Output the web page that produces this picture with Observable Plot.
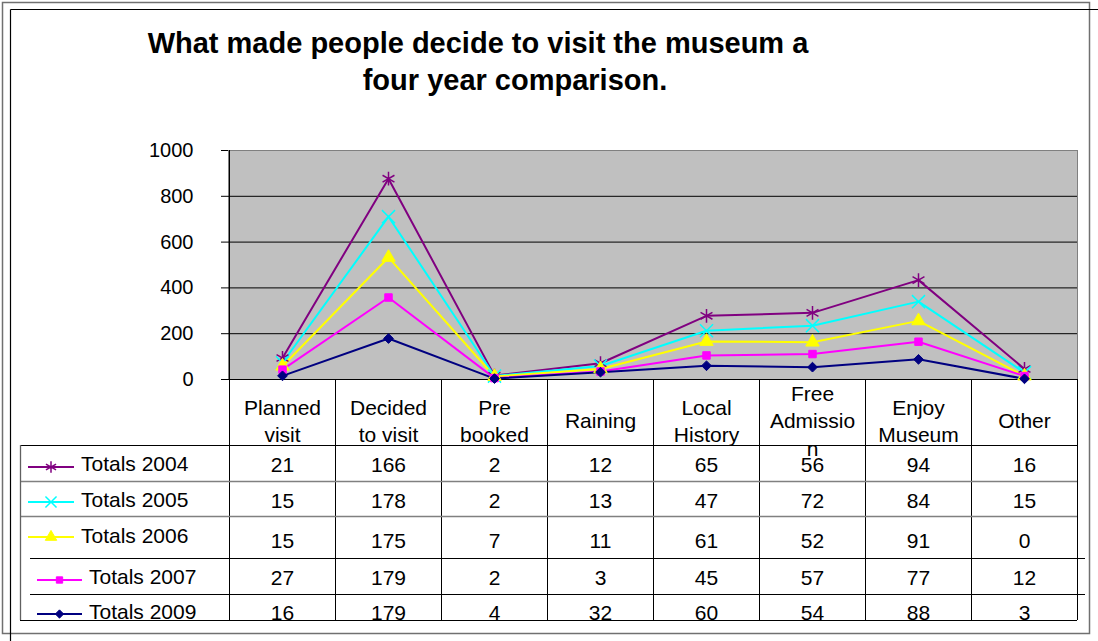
<!DOCTYPE html>
<html><head><meta charset="utf-8">
<script src="https://cdn.jsdelivr.net/npm/d3@7"></script>
<script src="https://cdn.jsdelivr.net/npm/@observablehq/plot@0.6"></script>
<style>body{margin:0;background:#fff;} svg{display:block}</style>
</head><body><div id="chart"></div>
<script>
// ---- data ----
const categories = ["Planned visit", "Decided to visit", "Pre booked", "Raining", "Local History", "Free Admission", "Enjoy Museum", "Other"];
const headerLabels = ["Planned\nvisit", "Decided\nto visit", "Pre\nbooked", "Raining", "Local\nHistory", "Free\nAdmissio\nn", "Enjoy\nMuseum", "Other"];
const seriesNames = ["Totals 2004", "Totals 2005", "Totals 2006", "Totals 2007", "Totals 2009"];
const totals2004 = [21, 166, 2, 12, 65, 56, 94, 16];
const totals2005 = [15, 178, 2, 13, 47, 72, 84, 15];
const totals2006 = [15, 175, 7, 11, 61, 52, 91, 0];
const totals2007 = [27, 179, 2, 3, 45, 57, 77, 12];
const totals2009 = [16, 179, 4, 32, 60, 54, 88, 3];
const seriesValues = [totals2004, totals2005, totals2006, totals2007, totals2009];
const seriesColors = ["#800080", "#00FFFF", "#FFFF00", "#FF00FF", "#000080"];
const seriesSymbols = ["asterisk", "times", "triangle", "square", "diamond2"];
const stackOrder = ["Totals 2009", "Totals 2007", "Totals 2006", "Totals 2005", "Totals 2004"];
const yTicks = [0, 200, 400, 600, 800, 1000];
const titleLines = ["What made people decide to visit the museum a", "four year comparison."];

const data = seriesNames.flatMap((s, i) => seriesValues[i].map((v, j) => ({series: s, category: categories[j], value: v})));

// ---- layout ----
const W = 1098, H = 641;
const font = "'Liberation Sans', Arial, Helvetica, sans-serif";
const mTop = 150, mBottom = 262, mLeft = 228, mRight = 21;
const plotBottom = H - mBottom;
const markerR = [6.5, 6, 5, 4.2, 4.4];
const markerSW = [1.5, 1.5, 1, 1, 1];
const rowBaselines = [471, 507, 547, 584, 619];
const legendBaselines = [471, 507, 543, 584, 619];
const keyY = [467, 502, 537, 580, 614];
const keyX = [[28, 74, 81], [28, 74, 81], [28, 74, 81], [37, 82, 89], [37, 82, 89]];
const rowLines = [[445, 20, 1077, "#000"], [481, 20, 1077, "#808080"], [516, 20, 1077, "#808080"], [558, 30, 1085, "#000"], [594, 30, 1085, "#000"], [620, 20, 1077, "#000"]];

const stackOpts = {x: "category", y: "value", z: "series", order: stackOrder};

const plot = Plot.plot({
  width: W, height: H,
  marginTop: mTop, marginBottom: mBottom, marginLeft: mLeft, marginRight: mRight,
  style: {fontFamily: font, fontSize: "21px", background: "white", color: "#000", overflow: "visible"},
  x: {type: "band", domain: categories, padding: 0, axis: null},
  y: {domain: [0, 1000], axis: null},
  color: {domain: seriesNames, range: seriesColors},
  symbol: {domain: seriesNames, range: seriesSymbols},
  marks: [
    Plot.frame({fill: "#C0C0C0", stroke: "#808080"}),
    Plot.ruleY([200, 400, 600, 800], {stroke: "#000", strokeWidth: 1}),
    Plot.ruleY([0], {stroke: "#000", strokeWidth: 1.2}),
    Plot.axisY(yTicks, {tickSize: 7, tickPadding: 28, fontSize: 20, label: null, tickFormat: d => String(d)}),
    Plot.lineY(data, Plot.stackY2({...stackOpts, stroke: "series", strokeWidth: 2})),
    ...seriesNames.map((s, i) => Plot.dot(data, Plot.filter(d => d.series === s,
      Plot.stackY2({...stackOpts, symbol: "series", fill: seriesColors[i], stroke: seriesColors[i], r: markerR[i], strokeWidth: markerSW[i]})))),
    Plot.text(categories, {x: d => d, text: (d, i) => headerLabels[i], frameAnchor: "bottom", dy: 40, lineAnchor: "middle", lineHeight: 1.3, fontSize: 21, fill: "#000"}),
    ...seriesNames.map((s, i) => Plot.text(seriesValues[i], {
      x: (d, j) => categories[j], text: d => String(d),
      frameAnchor: "bottom", lineAnchor: "bottom", dy: rowBaselines[i] - plotBottom, fontSize: 21, fill: "#000"
    }))
  ]
});

document.getElementById("chart").appendChild(plot);

// ---- decorations: table grid, legend keys, title, frames ----
const svg = d3.select(plot);
const xs = plot.scale("x");
const bw = xs.bandwidth;
const bounds = categories.map(c => xs.apply(c)).concat([xs.apply(categories[categories.length - 1]) + bw]);
const g = svg.append("g").attr("text-anchor", "start");
const ln = (x1, y1, x2, y2, stroke, w = 1) => g.append("line").attr("x1", x1).attr("y1", y1).attr("x2", x2).attr("y2", y2).attr("stroke", stroke).attr("stroke-width", w);

// y axis line continuing into table
ln(Math.round(bounds[0]) + 0.5, mTop, Math.round(bounds[0]) + 0.5, 620, "#000");
// column lines in table
bounds.slice(1).forEach(b => ln(Math.round(b) + 0.5, plotBottom, Math.round(b) + 0.5, 620, "#000"));
// row lines
rowLines.forEach(([y, x1, x2, c]) => ln(x1, y + 0.5, x2, y + 0.5, c, c === "#000" ? 1 : 1.6));
// left legend border
ln(20.5, 445, 20.5, 620, "#606060", 1.3);

// legend keys
const symMap = {asterisk: d3.symbolAsterisk, times: d3.symbolTimes, triangle: d3.symbolTriangle, square: d3.symbolSquare, diamond2: d3.symbolDiamond2};
seriesNames.forEach((s, i) => {
  const [x1, x2, tx] = keyX[i];
  ln(x1, keyY[i], x2, keyY[i], seriesColors[i], 2);
  const cx = (x1 + x2) / 2;
  const r = markerR[i] * 0.85;
  g.append("path").attr("d", d3.symbol(symMap[seriesSymbols[i]], Math.PI * r * r)())
    .attr("transform", `translate(${cx},${keyY[i]})`)
    .attr("fill", seriesColors[i]).attr("stroke", seriesColors[i]).attr("stroke-width", markerSW[i]);
  g.append("text").attr("x", tx).attr("y", legendBaselines[i]).attr("text-anchor", "start")
    .attr("font-size", 21).attr("font-family", font).attr("fill", "#000").text(s);
});

// title
const titleX = [478, 515], titleY = [53, 90];
titleLines.forEach((t, i) => g.append("text").attr("x", titleX[i]).attr("y", titleY[i]).attr("text-anchor", "middle")
  .attr("font-size", 29).attr("font-weight", "bold").attr("font-family", font).attr("fill", "#000").text(t));

// outer frames
g.append("rect").attr("x", 2.5).attr("y", 2.5).attr("width", 1087).attr("height", 631).attr("fill", "none").attr("stroke", "#707070").attr("stroke-width", 1.5);
ln(10.5, 9.5, W, 9.5, "#000", 1.2);
ln(10.5, 9.5, 10.5, H, "#000", 1.2);
</script>
</body></html>
